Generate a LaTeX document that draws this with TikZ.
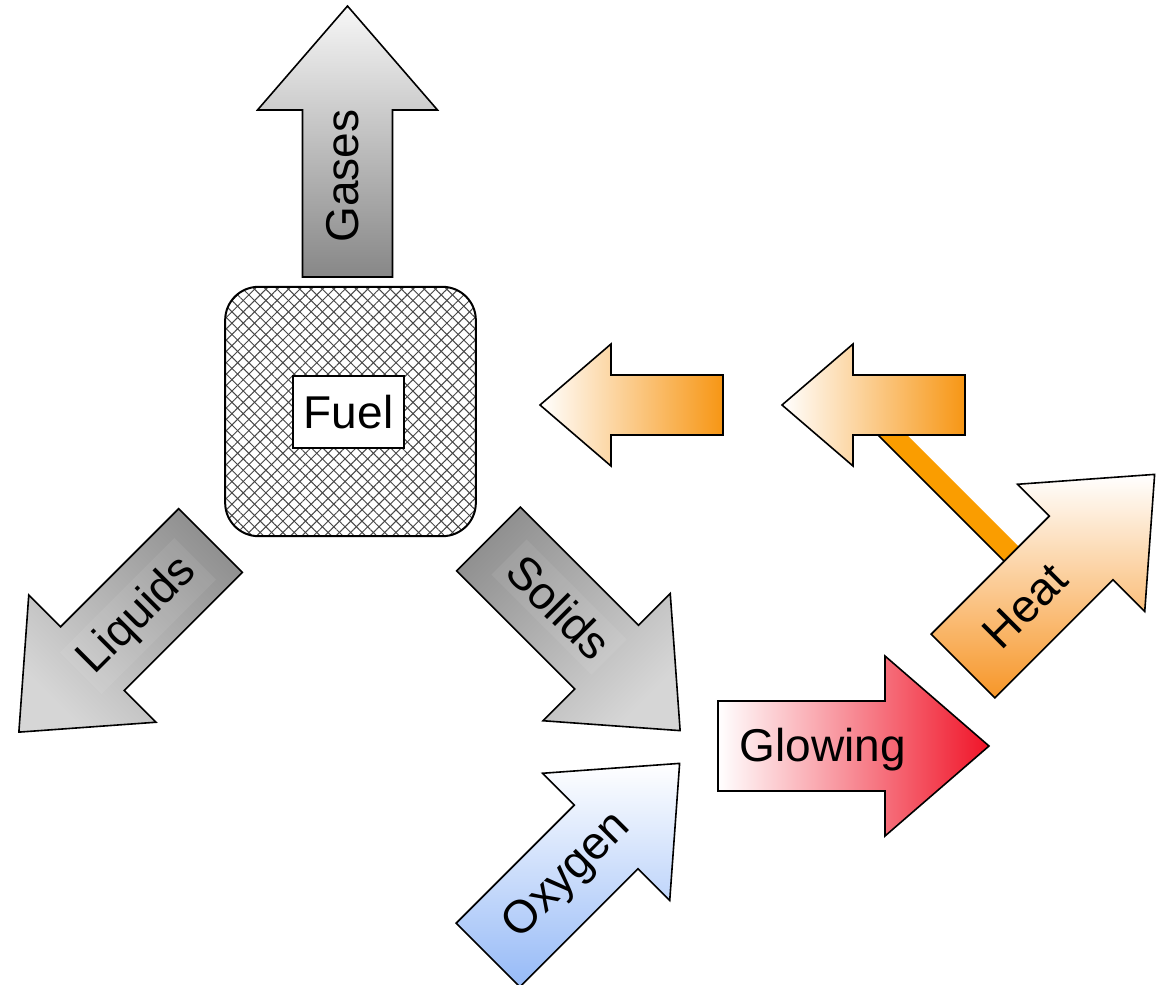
\documentclass[tikz,border=0pt]{standalone}
\usepackage{fontspec}
\setmainfont{Liberation Sans}
\usetikzlibrary{patterns.meta}

\definecolor{gaslight}{RGB}{247,247,247}
\definecolor{gasdark}{RGB}{135,135,135}
\definecolor{stonedark}{RGB}{145,145,145}
\definecolor{stonelight}{RGB}{214,214,214}
\definecolor{oxyblue}{RGB}{150,186,247}
\definecolor{glowred}{RGB}{240,20,40}
\definecolor{heatorange}{RGB}{247,150,40}
\definecolor{feedorange}{RGB}{247,150,20}
\definecolor{barorange}{RGB}{250,157,0}

\tikzset{
  bigarrow/.pic={
    \path[pic actions] (0,-45) -- (167,-45) -- (167,-90) -- (271,0)
      -- (167,90) -- (167,45) -- (0,45) -- cycle;
  },
  smallarrow/.pic={
    \path[pic actions] (0,-30) -- (112,-30) -- (112,-61) -- (183,0)
      -- (112,61) -- (112,30) -- (0,30) -- cycle;
  },
  outline/.style={draw=black, line width=1.2pt},
  arrowtext/.style={font=\fontsize{34.5}{40}\selectfont, inner sep=0pt},
  textpad/.style={arrowtext, fill=white, fill opacity=0.07, text opacity=1, inner sep=6pt},
  hatch/.style={pattern color=black!72,
    pattern={Lines[angle=#1,distance=6pt,line width=0.75pt]}},
}

\begin{document}
\begin{tikzpicture}[x=0.75pt,y=0.75pt,yscale=-1,xscale=1]
\useasboundingbox (0,0) rectangle (1160,985);
\clip (0,0) rectangle (1160,985);

%Fuel block
\node[outline, line width=1.5pt, rounded corners=25pt, minimum width=188pt, minimum height=187pt,
  preaction={fill=white}, preaction={hatch=45}, hatch=-45] (fuelblock) at (350.5,411.5) {};
\node[outline, fill=white, arrowtext, minimum width=83pt, minimum height=54pt] (fuel) at (348.5,412) {Fuel};

%Gases, liquids, solids
\pic[outline, top color=gaslight, bottom color=gasdark, rotate=90] at (347.5,277) {bigarrow};
\pic[outline, top color=stonedark, bottom color=stonelight, shading angle=-45, rotate=225] at (210.5,540.5) {bigarrow};
\pic[outline, top color=stonedark, bottom color=stonelight, shading angle=45, rotate=-45] at (488.5,539) {bigarrow};

%Oxygen and glowing
\pic[outline, top color=white, bottom color=oxyblue, rotate=45] at (488,955) {bigarrow};
\pic[outline, left color=white, right color=glowred] at (718,746) {bigarrow};

%Heat feedback bar
\fill[barorange] (878,435) -- (907,435) -- (1018.5,546.5) -- (1004,561) -- cycle;
\draw[line width=1.2pt] (878,435) -- (1004,561);

%Heat feedback arrows
\pic[outline, left color=white, right color=feedorange, rotate=180] at (723,405) {smallarrow};
\pic[outline, left color=white, right color=feedorange, rotate=180] at (965,405) {smallarrow};

%Heat
\pic[outline, top color=white, bottom color=heatorange, rotate=45] at (963,666) {bigarrow};

%Labels
\node[arrowtext, rotate=90] (gases) at (343,176) {Gases};
\node[textpad, rotate=45] (liquids) at (138,616) {Liquids};
\node[textpad, rotate=-45] (solids) at (559,607) {Solids};
\node[arrowtext, rotate=45] (oxygen) at (568,876) {Oxygen};
\node[arrowtext] (glowing) at (823,750) {Glowing};
\node[arrowtext, rotate=45] (heat) at (1025,606) {Heat};

\end{tikzpicture}
\end{document}
